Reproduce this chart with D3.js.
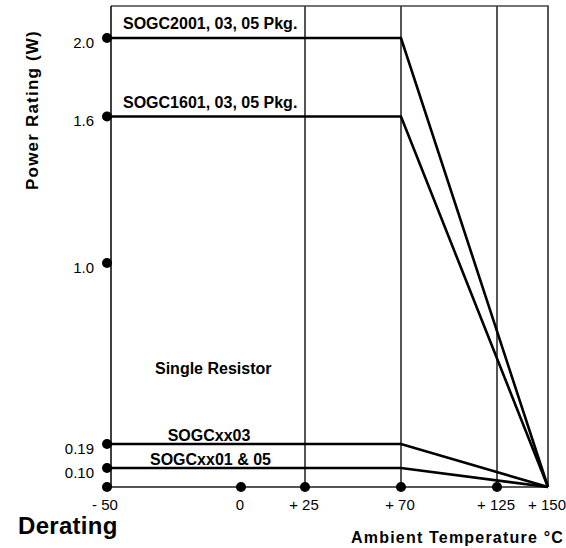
<!DOCTYPE html>
<html>
<head>
<meta charset="utf-8">
<script src="https://cdn.jsdelivr.net/npm/d3@7"></script>
<style>
  body { margin: 0; background: #fff; }
  text { font-family: "Liberation Sans", Arial, Helvetica, sans-serif; fill: #000; }
</style>
</head>
<body>
<svg id="canvas"></svg>
<script>
const svg = d3.select("#canvas")
  .attr("width", 566)
  .attr("height", 548);

// temperature ticks (the chart's x axis is not evenly spaced)
const tempTicks = [-50, 0, 25, 70, 125, 150];
const tempLabels = ["- 50", "0", "+ 25", "+ 70", "+ 125", "+ 150"];
const gridTemps = [25, 70, 125];

// power ticks (uneven spacing too)
const powerTicks = [0, 0.10, 0.19, 1.0, 1.6, 2.0];
const powerLabels = ["", "0.10", "0.19", "1.0", "1.6", "2.0"];

// derating curves: flat up to +70, then down to 0 at +150
const curveNames = ["SOGC2001, 03, 05 Pkg.", "SOGC1601, 03, 05 Pkg.", "SOGCxx03", "SOGCxx01 & 05"];
const curveRatings = [2.0, 1.6, 0.19, 0.10];
const kneeTemp = 70;
const maxTemp = 150;

// piecewise scales to follow the drawing
const x = d3.scaleLinear()
  .domain(tempTicks)
  .range([111, 241, 305, 401, 497, 548]);

const y = d3.scaleLinear()
  .domain(powerTicks)
  .range([487, 468, 444, 263, 116.5, 38]);

const plotTop = 6;

// grid + frame
svg.selectAll(".grid")
  .data(gridTemps)
  .join("line")
  .attr("x1", d => x(d)).attr("x2", d => x(d))
  .attr("y1", plotTop).attr("y2", y(0))
  .attr("stroke", "#555").attr("stroke-width", 2);

svg.append("line") // top border
  .attr("x1", x(-50)).attr("x2", x(150) + 1)
  .attr("y1", plotTop).attr("y2", plotTop)
  .attr("stroke", "#444").attr("stroke-width", 1.5);

svg.append("line") // right border
  .attr("x1", x(150)).attr("x2", x(150))
  .attr("y1", plotTop).attr("y2", y(0))
  .attr("stroke", "#555").attr("stroke-width", 2);

svg.append("line") // bottom
  .attr("x1", x(-50)).attr("x2", x(150))
  .attr("y1", y(0)).attr("y2", y(0))
  .attr("stroke", "#555").attr("stroke-width", 2);

svg.append("line") // left axis
  .attr("x1", x(-50)).attr("x2", x(-50))
  .attr("y1", plotTop).attr("y2", y(0))
  .attr("stroke", "#000").attr("stroke-width", 1.5);

// curves
const line = d3.line().x(d => x(d[0])).y(d => y(d[1]));
svg.selectAll(".curve")
  .data(curveRatings)
  .join("path")
  .attr("d", r => line([[-50, r], [kneeTemp, r], [maxTemp, 0]]))
  .attr("fill", "none")
  .attr("stroke", "#000")
  .attr("stroke-width", 2.6)
  .attr("stroke-linejoin", "miter");

// y axis dots & labels
svg.selectAll(".ydot")
  .data(powerTicks)
  .join("circle")
  .attr("cx", x(-50) - 4)
  .attr("cy", d => y(d))
  .attr("r", 5)
  .attr("fill", "#000");

svg.selectAll(".ylab")
  .data(powerTicks)
  .join("text")
  .attr("x", 94)
  .attr("y", d => y(d) + 9.5)
  .attr("text-anchor", "end")
  .style("font-size", "15px")
  .text((d, i) => powerLabels[i]);

// x axis dots & labels
svg.selectAll(".xdot")
  .data(tempTicks.slice(1, 5))
  .join("circle")
  .attr("cx", d => x(d))
  .attr("cy", y(0))
  .attr("r", 5)
  .attr("fill", "#000");

svg.selectAll(".xlab")
  .data(tempTicks)
  .join("text")
  .attr("x", (d, i) => i == 0 ? x(d) - 6 : x(d) - 1)
  .attr("y", 510)
  .attr("text-anchor", "middle")
  .style("font-size", "15px")
  .text((d, i) => tempLabels[i]);

// curve labels
const labelPos = [[123, 29, "start"], [123, 108, "start"], [209, 441, "middle"], [150, 465, "start"]];
svg.selectAll(".clab")
  .data(curveNames)
  .join("text")
  .attr("x", (d, i) => labelPos[i][0])
  .attr("y", (d, i) => labelPos[i][1])
  .attr("text-anchor", (d, i) => labelPos[i][2])
  .style("font-size", "16px")
  .style("font-weight", "bold")
  .text(d => d);

svg.append("text")
  .attr("x", 155).attr("y", 374)
  .style("font-size", "16px").style("font-weight", "bold")
  .text("Single Resistor");

// titles
svg.append("text")
  .attr("transform", "translate(38,110) rotate(-90)")
  .attr("text-anchor", "middle")
  .style("font-size", "17px").style("font-weight", "bold")
  .style("letter-spacing", "1.2px")
  .text("Power Rating (W)");

svg.append("text")
  .attr("x", 18).attr("y", 534)
  .style("font-size", "24px").style("font-weight", "bold")
  .style("letter-spacing", "0.3px")
  .text("Derating");

svg.append("text")
  .attr("x", 564).attr("y", 543)
  .attr("text-anchor", "end")
  .style("font-size", "16px").style("font-weight", "bold")
  .style("letter-spacing", "1.2px")
  .text("Ambient Temperature °C");
</script>
</body>
</html>
